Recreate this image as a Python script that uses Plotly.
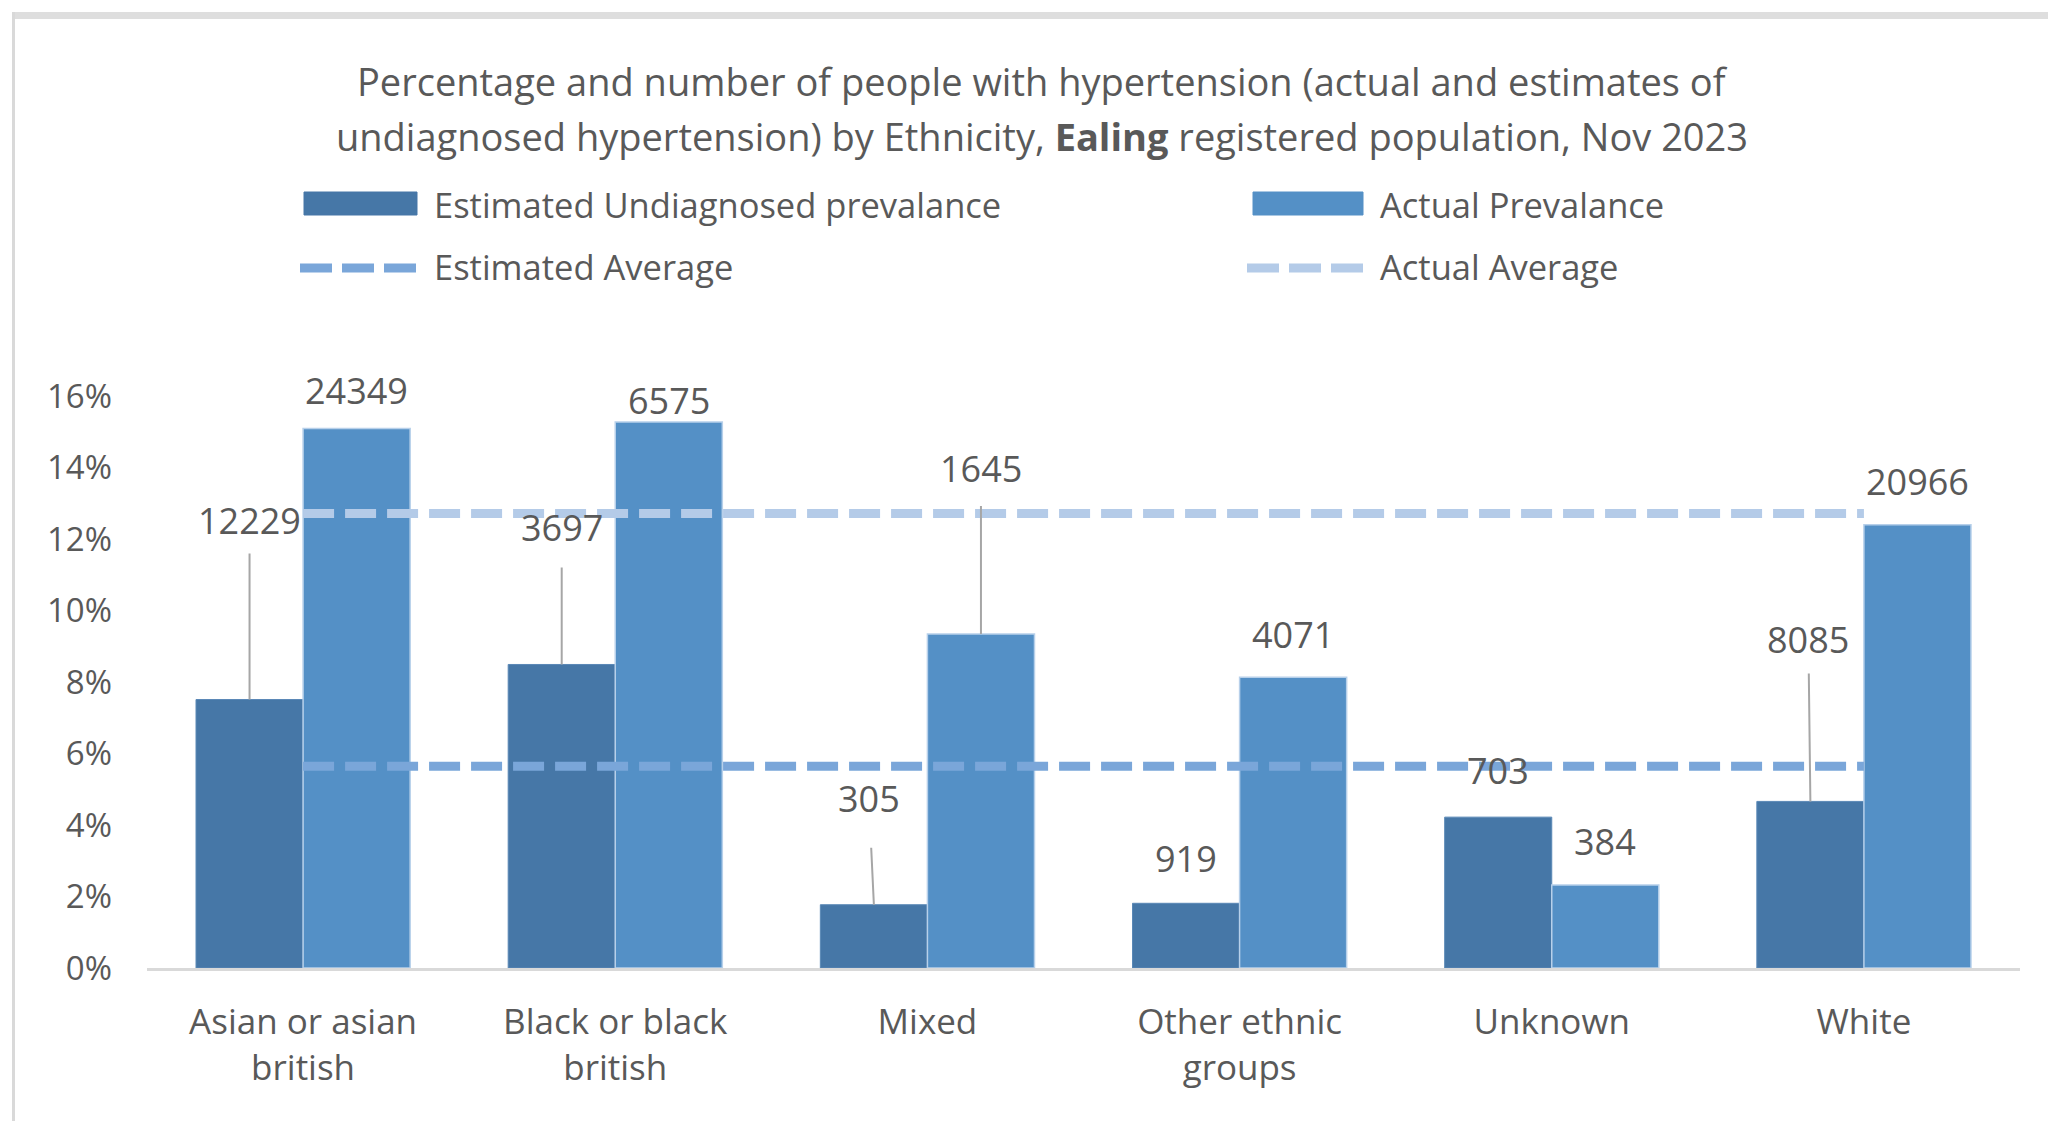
import plotly.graph_objects as go

# ---- data -------------------------------------------------------------
categories = ["Asian or asian british", "Black or black british", "Mixed",
              "Other ethnic groups", "Unknown", "White"]
tick_labels = ["Asian or asian<br>british", "Black or black<br>british", "Mixed",
               "Other ethnic<br>groups", "Unknown", "White"]

# prevalence, % of registered population
estimated_undiagnosed_pct = [7.51, 8.49, 1.77, 1.81, 4.22, 4.66]
actual_pct = [15.09, 15.27, 9.34, 8.13, 2.32, 12.40]

# number of people
estimated_undiagnosed_n = [12229, 3697, 305, 919, 703, 8085]
actual_n = [24349, 6575, 1645, 4071, 384, 20966]

estimated_average = 5.64
actual_average = 12.71

y_ticks = [0, 2, 4, 6, 8, 10, 12, 14, 16]

# ---- styling ------------------------------------------------------------
DARK = "#4677A7"
LIGHT = "#5490C6"
EST_AVG = "#7AA6D9"
ACT_AVG = "#B4CBE8"
TEXT = "#595959"
FONT = "Open Sans"

W, H = 2048, 1121
ML, MR, MT, MB = 147, 28, 396, 153
PW, PH = W - ML - MR, H - MT - MB
BARGAP = 0.314


def px_x(px):
    return (px - ML) / PW


def px_y(py):
    return (H - MB - py) / PH


# label placement: pixel lift above the bar top, optional leader line
est_label_pos = [
    dict(ay=-179, ax=0, leader=True, gap=7),
    dict(ay=-137, ax=0, leader=True, gap=14),
    dict(ay=-106, ax=-5, leader=True, gap=23),
    dict(ay=-45, ax=0, leader=False),
    dict(ay=-47, ax=0, leader=False),
    dict(ay=-162, ax=-2, leader=True, gap=8),
]
act_label_pos = [
    dict(ay=-38, ax=0, leader=False),
    dict(ay=-22, ax=0, leader=False),
    dict(ay=-166, ax=0, leader=True, gap=12),
    dict(ay=-43, ax=0, leader=False),
    dict(ay=-44, ax=0, leader=False),
    dict(ay=-43, ax=0, leader=False),
]

fig = go.Figure()

fig.add_trace(go.Bar(
    name="Estimated Undiagnosed prevalance", x=categories, y=estimated_undiagnosed_pct,
    marker=dict(color=DARK, line=dict(color="#5A88B6", width=1)),
))
fig.add_trace(go.Bar(
    name="Actual Prevalance", x=categories, y=actual_pct,
    marker=dict(color=LIGHT, line=dict(color="#B7D0EA", width=1.5)),
))
fig.add_trace(go.Scatter(
    name="Estimated Average", x=categories, y=[estimated_average] * len(categories),
    mode="lines", line=dict(color=EST_AVG, width=9, dash="31px,11px"),
))
fig.add_trace(go.Scatter(
    name="Actual Average", x=categories, y=[actual_average] * len(categories),
    mode="lines", line=dict(color=ACT_AVG, width=9, dash="31px,11px"),
))

# ---- data labels ----------------------------------------------------------
half = (1 - BARGAP) / 4
annotations = []
for series, values, counts, placement in (
        (-1, estimated_undiagnosed_pct, estimated_undiagnosed_n, est_label_pos),
        (1, actual_pct, actual_n, act_label_pos)):
    for i, (v, n, p) in enumerate(zip(values, counts, placement)):
        xpos = i + series * half
        common = dict(x=xpos, y=v, xref="x", yref="y", text=str(n),
                      font=dict(family=FONT, size=36, color=TEXT))
        if p["leader"]:
            annotations.append(dict(
                **common, showarrow=True, arrowhead=0, arrowwidth=2,
                arrowcolor="#A6A6A6", ax=p["ax"], ay=p["ay"],
                startstandoff=p["gap"], standoff=0,
            ))
        else:
            annotations.append(dict(
                **common, showarrow=False, yanchor="middle",
                xshift=p["ax"], yshift=-p["ay"],
            ))

# ---- title ---------------------------------------------------------------
title_lines = [
    "Percentage and number of people with hypertension (actual and estimates of",
    "undiagnosed hypertension) by Ethnicity, <b>Ealing</b> registered population, Nov 2023",
]
for line, py in zip(title_lines, (81, 136)):
    annotations.append(dict(
        x=px_x(1042), y=px_y(py), xref="paper", yref="paper", text=line,
        showarrow=False, xanchor="center", yanchor="middle",
        font=dict(family=FONT, size=38, color=TEXT),
    ))

# ---- legend (drawn by hand to get the wide swatches) ------------------------
legend_items = [
    ("Estimated Undiagnosed prevalance", "rect", DARK, 304, 417, 432, 204),
    ("Actual Prevalance", "rect", LIGHT, 1253, 1363, 1378, 204),
    ("Estimated Average", "dash", EST_AVG, 300, 417, 432, 266),
    ("Actual Average", "dash", ACT_AVG, 1247, 1363, 1378, 266),
]
shapes = []
for label, kind, color, sx0, sx1, tx, cy in legend_items:
    if kind == "rect":
        shapes.append(dict(type="rect", xref="paper", yref="paper",
                           x0=px_x(sx0), x1=px_x(sx1), y0=px_y(cy + 11), y1=px_y(cy - 12),
                           fillcolor=color, line=dict(color=color, width=1)))
    else:
        shapes.append(dict(type="line", xref="paper", yref="paper",
                           x0=px_x(sx0), x1=px_x(sx1), y0=px_y(cy + 2), y1=px_y(cy + 2),
                           line=dict(color=color, width=9, dash="32px,10px")))
    annotations.append(dict(
        x=px_x(tx), y=px_y(cy), xref="paper", yref="paper", text=label,
        showarrow=False, xanchor="left", yanchor="middle",
        font=dict(family=FONT, size=34.5, color=TEXT),
    ))

# chart frame
shapes.append(dict(type="rect", xref="paper", yref="paper", layer="below",
                   x0=px_x(13), x1=px_x(W + 20), y0=px_y(19), y1=px_y(12),
                   fillcolor="#DEDEDE", line=dict(width=0)))
shapes.append(dict(type="rect", xref="paper", yref="paper", layer="below",
                   x0=px_x(12), x1=px_x(15), y0=px_y(H + 20), y1=px_y(12),
                   fillcolor="#D9D9D9", line=dict(width=0)))

fig.update_layout(
    width=W, height=H,
    margin=dict(l=ML, r=MR, t=MT, b=MB, pad=0),
    paper_bgcolor="white", plot_bgcolor="white",
    barmode="group", bargap=BARGAP, bargroupgap=0,
    showlegend=False,
    annotations=annotations, shapes=shapes,
    font=dict(family=FONT, color=TEXT),
    xaxis=dict(
        type="category", tickmode="array", tickvals=categories, ticktext=tick_labels,
        showline=True, linecolor="#D9D9D9", linewidth=3, showgrid=False,
        ticks="", tickfont=dict(family=FONT, size=35, color=TEXT),
        ticklabelstandoff=21, zeroline=False,
    ),
    yaxis=dict(
        range=[0, 16], tickmode="array", tickvals=y_ticks,
        ticktext=[f"{t}%" for t in y_ticks],
        showgrid=False, zeroline=False, showline=False, ticks="",
        tickfont=dict(family=FONT, size=33, color=TEXT),
        ticklabelstandoff=34,
    ),
)

fig.write_html("out.html")
